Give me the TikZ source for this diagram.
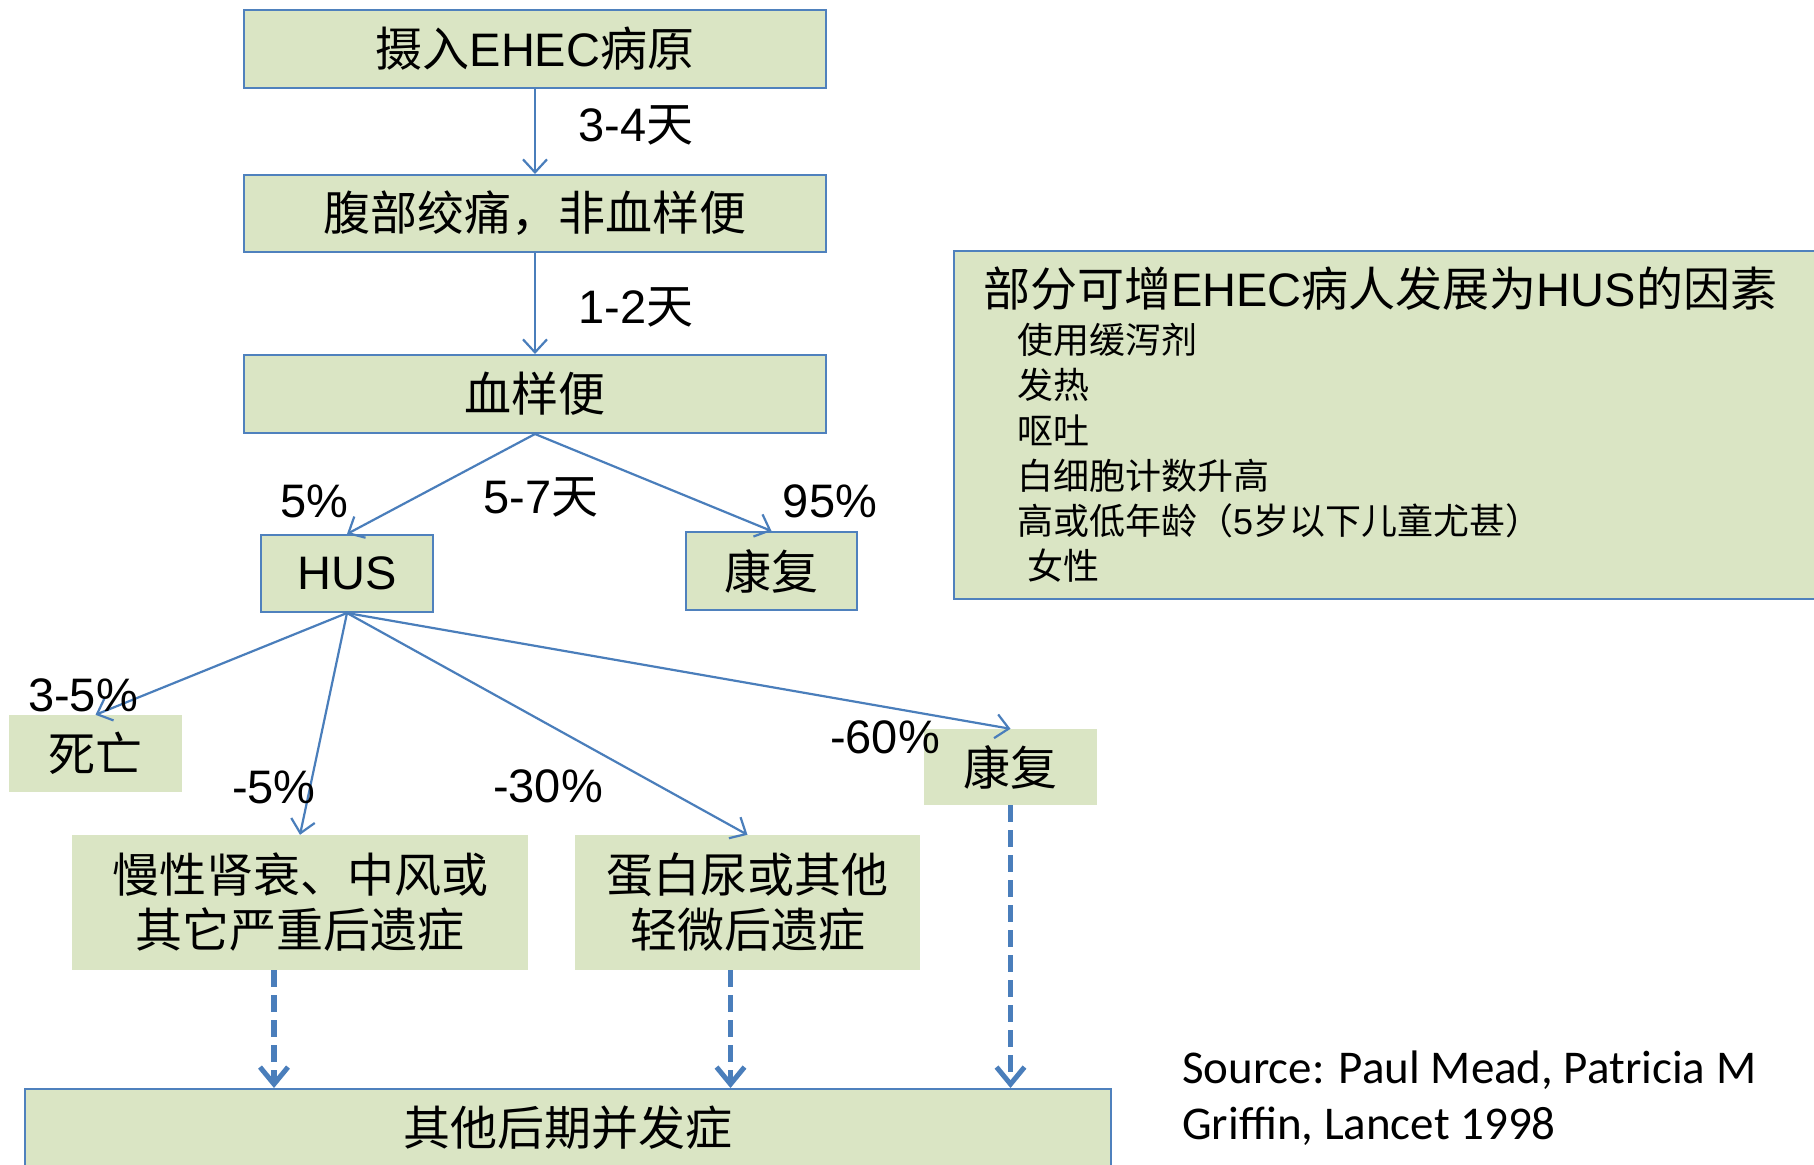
\documentclass[tikz,border=0pt]{standalone}
\usepackage{fontspec}
\setmainfont{Liberation Sans}
\newfontfamily\cjk{Noto Sans CJK SC}
\newfontfamily\calib{Carlito}
\usetikzlibrary{arrows.meta}
\definecolor{boxfill}{RGB}{218,229,196}
\definecolor{boxline}{RGB}{79,129,189}
\definecolor{arrline}{RGB}{74,126,187}
\begin{document}
\begin{tikzpicture}[x=1pt,y=-1pt,
  box/.style={draw=boxline, line width=2pt, fill=boxfill, inner sep=0pt, align=center, font=\fontsize{47}{55}\selectfont},
  plainbox/.style={fill=boxfill, inner sep=0pt, align=center, font=\fontsize{47}{55}\selectfont},
  arr/.style={draw=arrline, line width=2.2pt, -{Straight Barb[length=13pt,width=24pt]}},
  darr/.style={draw=arrline, line width=5.5pt, dash pattern=on 17pt off 8pt, -{Straight Barb[length=17pt,width=28pt,line width=5pt]}},
  lbl/.style={font=\fontsize{47}{55}\selectfont, inner sep=0pt},
  item/.style={font=\cjk\fontsize{36}{40}\selectfont, inner sep=0pt, anchor=west}
]
\useasboundingbox (0,0) rectangle (1814,1164);
\fill[white] (0,0) rectangle (1814,1164);

% main chain
\node[box, minimum width=582pt, minimum height=78pt] (b1) at (535,49) {{\cjk 摄入}EHEC{\cjk 病原}};
\node[box, minimum width=582pt, minimum height=77pt] (b2) at (535,213.5) {\cjk 腹部绞痛，非血样便};
\node[box, minimum width=582pt, minimum height=78pt] (b3) at (535,394) {\cjk 血样便};
\node[box, minimum width=172pt, minimum height=77pt] (hus) at (347,573.5) {HUS};
\node[box, minimum width=171pt, minimum height=78pt] (kf1) at (771.5,571) {\cjk 康复};

\draw[arr] (b1.south) -- (b2.north);
\draw[arr] (b2.south) -- (b3.north);
\draw[arr] (b3.south) -- (hus.north);
\draw[arr] (b3.south) -- (kf1.north);

\node[lbl] (l34) at (636,125) {3-4{\cjk 天}};
\node[lbl] (l12) at (636,307) {1-2{\cjk 天}};
\node[lbl] (l5) at (314,501) {5\%};
\node[lbl] (l57) at (541,497) {5-7{\cjk 天}};
\node[lbl] (l95) at (830,501) {95\%};

% factors box
\node[draw=boxline, line width=2pt, fill=boxfill, inner sep=0pt, anchor=north west, minimum width=877pt, minimum height=348pt] (fac) at (953,250) {};
\node[anchor=west, inner sep=0pt, font=\fontsize{47}{55}\selectfont] (ft) at (983,289) {{\cjk 部分可增}EHEC{\cjk 病人发展为}HUS{\cjk 的因素}};
\node[item] (f1) at (1017,340) {使用缓泻剂};
\node[item] (f2) at (1017,385) {发热};
\node[item] (f3) at (1017,430) {呕吐};
\node[item] (f4) at (1017,476) {白细胞计数升高};
\node[item] (f5) at (1017,521) {高或低年龄（{\rmfamily 5}岁以下儿童尤甚）};
\node[item] (f6) at (1027,566) {女性};

% HUS outcomes
\node[plainbox, minimum width=173pt, minimum height=77pt] (dead) at (95.5,753.5) {\cjk 死亡};
\node[plainbox, minimum width=456pt, minimum height=135pt] (chronic) at (300,902.5) {\cjk 慢性肾衰、中风或\\\cjk 其它严重后遗症};
\node[plainbox, minimum width=345pt, minimum height=135pt] (protein) at (747.5,902.5) {\cjk 蛋白尿或其他\\\cjk 轻微后遗症};
\node[plainbox, minimum width=173pt, minimum height=76pt] (kf2) at (1010.5,767) {\cjk 康复};

\draw[arr] (hus.south) -- (dead.north);
\draw[arr] (hus.south) -- (chronic.north);
\draw[arr] (hus.south) -- (protein.north);
\draw[arr] (hus.south) -- (kf2.north);

\node[lbl] (l35) at (83,695) {3-5\%};
\node[lbl] (lm5) at (274,787) {-5\%};
\node[lbl] (lm30) at (548,786) {-30\%};
\node[lbl] (lm60) at (885,737) {-60\%};

% late complications
\node[box, anchor=north west, minimum width=1086pt, minimum height=78pt] (late) at (24,1088) {\cjk 其他后期并发症};

\coordinate (c1) at ([xshift=-26pt]chronic.south);
\coordinate (c2) at ([xshift=-17pt]protein.south);
\draw[darr] (c1) -- (c1 |- late.north);
\draw[darr] (c2) -- (c2 |- late.north);
\draw[darr] (kf2.south) -- (kf2.south |- late.north);

\node[anchor=west, align=left, inner sep=0pt, font=\calib\fontsize{47}{56}\selectfont] (src) at (1182,1098) {Source: Paul Mead, Patricia M\\Griffin, Lancet 1998};
\end{tikzpicture}
\end{document}
